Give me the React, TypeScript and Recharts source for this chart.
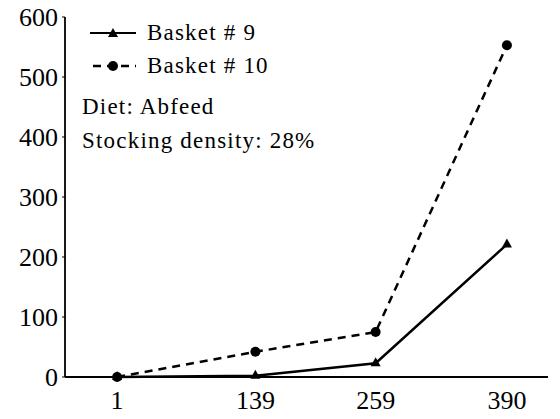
import { LineChart, Line, XAxis, YAxis } from 'recharts'

// sampling days and counts per basket
const days = [1, 139, 259, 390]
const basket9 = [0, 2, 23, 221]
const basket10 = [0, 42, 75, 553]
const yTicks = [0, 100, 200, 300, 400, 500, 600]
const seriesNames = ['Basket # 9', 'Basket # 10']
const notes = ['Diet: Abfeed', 'Stocking density: 28%']

const data = days.map((day, i) => ({
  day,
  b9: basket9[i],
  b10: basket10[i],
}))

const serif = 'Liberation Serif, Tinos, DejaVu Serif, serif'

const Triangle = ({ cx, cy }: any) => {
  if (cx == null || cy == null) return null
  return <path d={`M${cx},${cy - 6} L${cx + 5},${cy + 3} L${cx - 5},${cy + 3} Z`} fill="#000" />
}

const Dot = ({ cx, cy }: any) => {
  if (cx == null || cy == null) return null
  return <circle cx={cx} cy={cy} r={5} fill="#000" />
}

const LegendBox = () => (
  <div
    style={{
      position: 'absolute',
      left: 90,
      top: 16,
      fontFamily: serif,
      fontSize: 23,
      letterSpacing: 1.2,
      color: '#000',
      lineHeight: '33px',
    }}
  >
    <div style={{ display: 'flex', alignItems: 'center' }}>
      <svg width={46} height={14} style={{ marginRight: 11 }}>
        <line x1={0} y1={7} x2={46} y2={7} stroke="#000" strokeWidth={2} />
        <path d="M23,2 L28,11 L18,11 Z" fill="#000" />
      </svg>
      {seriesNames[0]}
    </div>
    <div style={{ display: 'flex', alignItems: 'center' }}>
      <svg width={46} height={14} style={{ marginRight: 11 }}>
        <line x1={0} y1={7} x2={46} y2={7} stroke="#000" strokeWidth={2.5} strokeDasharray="8 6" strokeDashoffset={-3} />
        <circle cx={23} cy={7} r={5} fill="#000" />
      </svg>
      {seriesNames[1]}
    </div>
    <div style={{ marginLeft: -8, marginTop: 8, lineHeight: '34px' }}>
      {notes.map((n) => (
        <div key={n}>{n}</div>
      ))}
    </div>
  </div>
)

export default function App() {
  return (
    <div
      style={{
        position: 'absolute',
        left: 0,
        top: 0,
        width: 560,
        height: 419,
        background: '#fff',
      }}
    >
      <LineChart
        width={560}
        height={419}
        data={data}
        margin={{ top: 17, right: 12, bottom: 0, left: 0 }}
      >
        <XAxis
          dataKey="day"
          type="number"
          domain={[-51, 431]}
          ticks={days}
          allowDataOverflow
          height={42}
          axisLine={{ stroke: '#000', strokeWidth: 1.8 }}
          tickLine={false}
          tickSize={6}
          tickMargin={8}
          tick={{ fill: '#000', fontSize: 26, fontFamily: serif }}
        />
        <YAxis
          domain={[0, 600]}
          ticks={yTicks}
          width={65}
          axisLine={{ stroke: '#000', strokeWidth: 1.8 }}
          tickLine={{ stroke: '#000', strokeWidth: 1 }}
          tickSize={3}
          tickMargin={4}
          tick={{ fill: '#000', fontSize: 26, fontFamily: serif }}
        />
        <Line
          dataKey="b9"
          name={seriesNames[0]}
          stroke="#000"
          strokeWidth={2.5}
          dot={<Triangle />}
          isAnimationActive={false}
        />
        <Line
          dataKey="b10"
          name={seriesNames[1]}
          stroke="#000"
          strokeWidth={2.5}
          strokeDasharray="8 6"
          dot={<Dot />}
          isAnimationActive={false}
        />
      </LineChart>
      <LegendBox />
    </div>
  )
}
